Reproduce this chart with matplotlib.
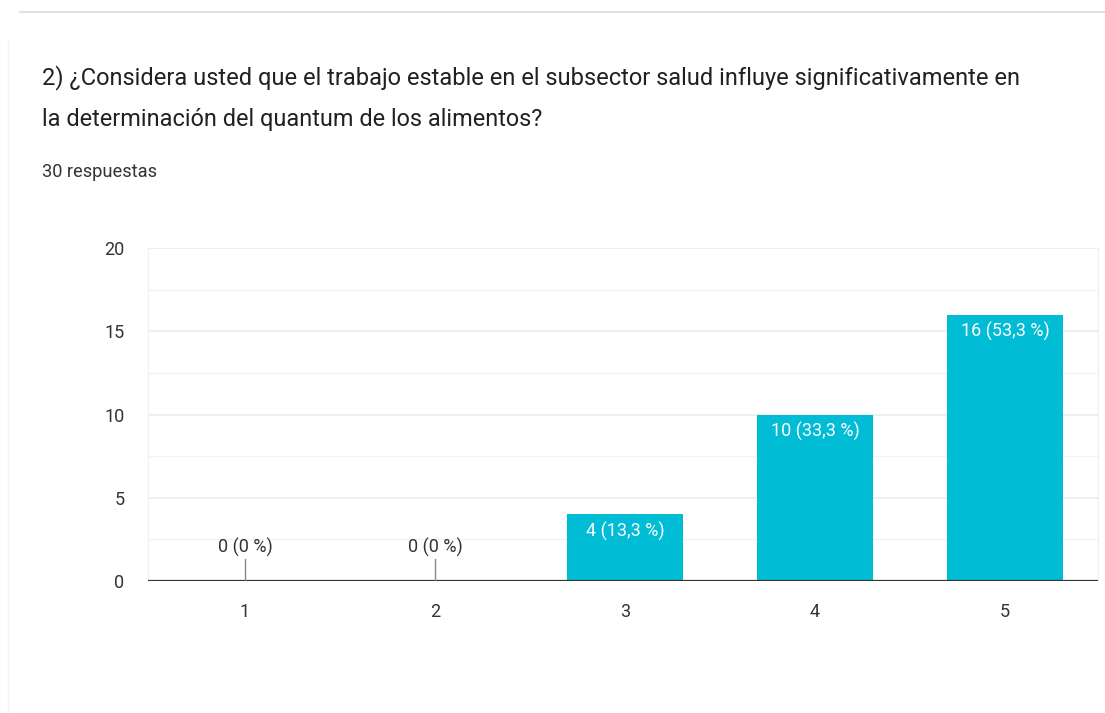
import matplotlib
matplotlib.use("Agg")
import matplotlib.pyplot as plt
from matplotlib.lines import Line2D

categories = ["1", "2", "3", "4", "5"]
counts = [0, 0, 4, 10, 16]
percents = ["0 %", "0 %", "13,3 %", "33,3 %", "53,3 %"]
yticks = [0, 5, 10, 15, 20]
title_lines = [
    "2) ¿Considera usted que el trabajo estable en el subsector salud influye significativamente en",
    "la determinación del quantum de los alimentos?",
]
subtitle = "30 respuestas"

W, H = 1105, 713
BAR = "#00BCD4"
FONT = "Roboto"

fig = plt.figure(figsize=(W / 100, H / 100), dpi=100)
fig.patch.set_facecolor("white")
renderer = fig.canvas.get_renderer()


def fit_text(x, y, s, target_w, color, va="baseline", ha="left"):
    t = fig.text(x / W, 1 - y / H, s, fontsize=12, family=FONT, color=color, ha=ha, va=va)
    w = t.get_window_extent(renderer=renderer).width
    t.set_fontsize(12 * target_w / w)
    return t


# card border
fig.add_artist(Line2D([20 / W, 1], [1 - 12 / H, 1 - 12 / H], color="#dadce0", lw=1.2))
fig.add_artist(Line2D([8 / W, 8 / W], [1 - 40 / H, 0], color="#f4f4f4", lw=1))

fit_text(42, 84, title_lines[0], 973, "#202124")
fit_text(42, 126, title_lines[1], 498, "#202124")
fit_text(42, 177, subtitle, 115, "#333333")

ax = fig.add_axes([148 / W, 1 - 581 / H, (1098 - 148) / W, (581 - 248) / H])
x = list(range(len(categories)))
ax.set_xlim(-0.51, 4.49)
ax.set_ylim(0, 20)

for yy in [2.5, 7.5, 12.5, 17.5]:
    ax.axhline(yy, color="#f3f3f3", lw=1, zorder=0)
for yy in [5, 10, 15, 20]:
    ax.axhline(yy, color="#ebebeb", lw=1.2, zorder=0)

bars = ax.bar(x, counts, width=0.61, color=BAR, zorder=2)
for xi, c in zip(x, counts):
    if c == 0:
        ax.plot([xi - 0.305, xi + 0.305], [0.03, 0.03], color=BAR, lw=1, alpha=0.5, zorder=2)

ax.axhline(0, color="#333333", lw=1.6, zorder=3)

LFS = 13
for xi, c, p in zip(x, counts, percents):
    s = f"{c} ({p})"
    if c == 0:
        ax.plot([xi, xi], [0, 1.3], color="#888888", lw=1, zorder=3)
        ax.annotate(s, (xi, 1.45), ha="center", va="bottom", fontsize=LFS,
                    family=FONT, color="#333333")
    else:
        ax.annotate(s, (xi, c), xytext=(0, -5), textcoords="offset points",
                    ha="center", va="top", fontsize=LFS, family=FONT, color="white", zorder=4)

ax.set_xticks(x)
ax.set_xticklabels(categories)
ax.set_yticks(yticks)
ax.tick_params(axis="both", length=0, labelsize=13, labelcolor="#333333")
ax.tick_params(axis="x", pad=16)
ax.tick_params(axis="y", pad=17)
for lab in ax.get_xticklabels() + ax.get_yticklabels():
    lab.set_family(FONT)
for side in ["top", "bottom"]:
    ax.spines[side].set_visible(False)
for side in ["left", "right"]:
    ax.spines[side].set_color("#f0f0f0")

fig.savefig("out.png", dpi=100, facecolor="white")
